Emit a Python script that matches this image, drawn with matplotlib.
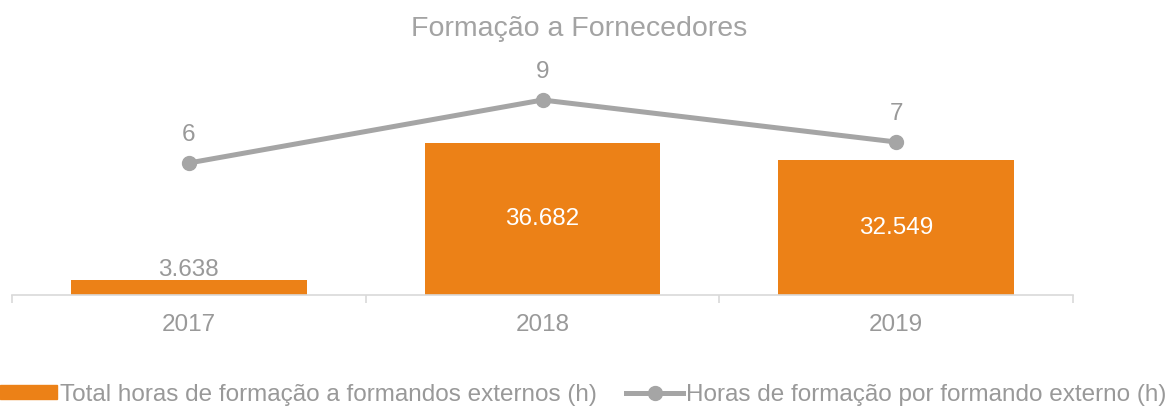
import numpy as np
import matplotlib.pyplot as plt
from matplotlib.lines import Line2D
from matplotlib.patches import Patch

plt.rcParams['font.family'] = ['Liberation Sans', 'DejaVu Sans']

# Dados
anos = ['2017', '2018', '2019']
total_horas = [3638, 36682, 32549]
horas_por_formando = [6, 9, 7]

laranja = '#EC8117'
cinza = '#A5A5A5'
cinza_texto = '#999999'
fs = 17.5


def fmt_milhar(v):
    return f'{v:,}'.replace(',', '.')


fig = plt.figure(figsize=(11.67, 4.07), dpi=100)
ax = fig.add_axes([12 / 1167, 112 / 407, 1061 / 1167, 240 / 407])
x = np.arange(len(anos))

ax.bar(x, total_horas, width=0.667, color=laranja, zorder=2)
ax.set_xlim(-0.5, 2.5)
ax.set_ylim(0, 240 * 36682 / 152)

# Rótulos das barras
for xi, v in zip(x, total_horas):
    if v > 10000:
        ax.text(xi, v / 2, fmt_milhar(v), ha='center', va='center',
                color='white', fontsize=fs)
    else:
        ax.annotate(fmt_milhar(v), (xi, v), xytext=(0, 7),
                    textcoords='offset points', ha='center', va='center',
                    color=cinza_texto, fontsize=fs)

# Eixo secundário para a linha
ax2 = ax.twinx()
ax2.plot(x, horas_por_formando, color=cinza, lw=3.6, marker='o',
         markersize=10, zorder=3)
ax2.set_ylim(-6 / 21, 234 / 21)
for xi, v in zip(x, horas_por_formando):
    ax2.annotate(str(v), (xi, v), xytext=(0, 20.5), textcoords='offset points',
                 ha='center', va='center', color=cinza_texto, fontsize=fs)

for a in (ax, ax2):
    for s in a.spines.values():
        s.set_visible(False)
    a.set_yticks([])

ax.spines['bottom'].set_visible(True)
ax.spines['bottom'].set_color('#D9D9D9')
ax.spines['bottom'].set_linewidth(1.2)
ax.set_xticks([-0.5, 0.5, 1.5, 2.5])
ax.set_xticklabels([])
ax.tick_params(axis='x', which='major', length=6, color='#D9D9D9', width=1.2)
ax.set_xticks(x, minor=True)
ax.set_xticklabels(anos, minor=True)
ax.tick_params(axis='x', which='minor', length=0, pad=13.5,
               labelsize=fs, labelcolor=cinza_texto)

fig.text(579 / 1167, 1 - 29 / 407, 'Formação a Fornecedores', ha='center',
         va='center', color='#A3A3A3', fontsize=20.5)

handles = [Patch(color=laranja),
           Line2D([], [], color=cinza, lw=3.6, marker='o', markersize=10)]
labels = ['Total horas de formação a formandos externos (h)',
          'Horas de formação por formando externo (h)']
fig.legend(handles, labels, loc='center', bbox_to_anchor=(0.5, 1 - 395 / 407),
           ncol=2, frameon=False, fontsize=fs, labelcolor=cinza_texto,
           handlelength=2.35, handleheight=0.5, handletextpad=0.12,
           columnspacing=1.2, borderpad=0, borderaxespad=0)

fig.savefig('out.png', dpi=100)
